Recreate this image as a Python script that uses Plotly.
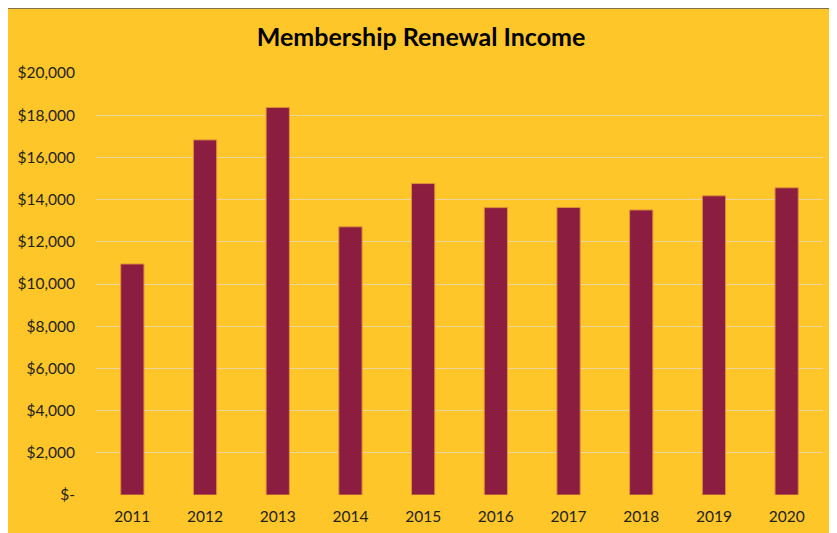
import plotly.graph_objects as go

years = ["2011", "2012", "2013", "2014", "2015", "2016", "2017", "2018", "2019", "2020"]
income = [10950, 16830, 18370, 12710, 14760, 13620, 13630, 13510, 14180, 14560]
tick_vals = [0, 2000, 4000, 6000, 8000, 10000, 12000, 14000, 16000, 18000, 20000]
tick_text = ["$-", "$2,000", "$4,000", "$6,000", "$8,000", "$10,000", "$12,000",
             "$14,000", "$16,000", "$18,000", "$20,000"]

YELLOW = "#FFC629"
MAROON = "#8B1D41"
FONT = "Lato"

fig = go.Figure()
fig.add_trace(go.Bar(
    x=years, y=income, width=0.32,
    marker=dict(color=MAROON, line=dict(color="#E0913A", width=1)),
))

W, H = 829, 525
L, R, T, B = 88, 14, 65, 38
pw, ph = W - L - R, H - T - B

fig.add_shape(type="line", xref="paper", yref="paper", layer="above",
              x0=-L / pw, x1=(W - L) / pw, y0=1 + T / ph, y1=1 + T / ph,
              line=dict(color="#555555", width=1.5))

fig.update_layout(
    width=W, height=H,
    margin=dict(l=L, r=R, t=T, b=B, autoexpand=False),
    paper_bgcolor=YELLOW, plot_bgcolor=YELLOW,
    showlegend=False,
    title=dict(text="<b>Membership Renewal Income</b>", x=(421 - 8) / W, xanchor="center",
               y=1 - 29 / H, yanchor="middle",
               font=dict(family=FONT, size=25, color="black")),
    font=dict(family=FONT, size=15.5, color="#222222"),
)
fig.update_xaxes(showgrid=False, showline=False, ticks="", ticklabelstandoff=10,
                 automargin=False,
                 tickfont=dict(family=FONT, size=15.5, color="#222222"))
fig.update_yaxes(range=[0, 20000], tickvals=tick_vals, ticktext=tick_text,
                 showgrid=True, gridcolor="#EAD59C", gridwidth=1.3, zeroline=False,
                 showline=False, ticks="", ticklabelstandoff=20, automargin=False,
                 tickfont=dict(family=FONT, size=15.5, color="#222222"))

fig.write_html("out.html")
